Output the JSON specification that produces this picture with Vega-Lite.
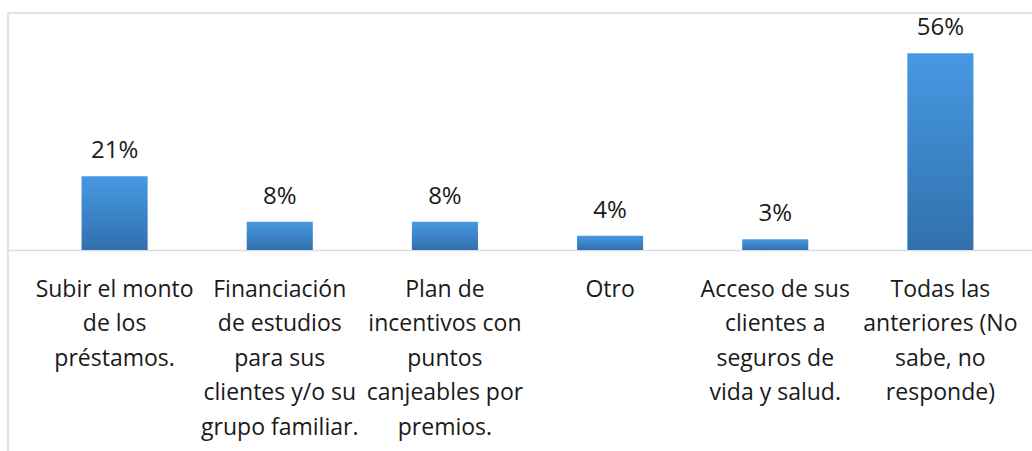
{
  "$schema": "https://vega.github.io/schema/vega-lite/v6.json",
  "autosize": "none",
  "padding": {"left": 8, "top": 13, "right": 0, "bottom": 0},
  "width": 1039,
  "height": 445,
  "background": "white",
  "config": {
    "view": {"stroke": "#dde3ea", "strokeWidth": 2},
    "font": "Open Sans"
  },
  "data": {
    "values": [
      {"cat": "Subir el monto|de los|préstamos.", "value": 0.21},
      {"cat": "Financiación|de estudios|para sus|clientes y/o su|grupo familiar.", "value": 0.08},
      {"cat": "Plan de|incentivos con|puntos|canjeables por|premios.", "value": 0.08},
      {"cat": "Otro", "value": 0.04},
      {"cat": "Acceso de sus|clientes a|seguros de|vida y salud.", "value": 0.03},
      {"cat": "Todas las|anteriores (No|sabe, no|responde)", "value": 0.56}
    ]
  },
  "encoding": {
    "x": {
      "field": "cat",
      "type": "nominal",
      "sort": null,
      "scale": {"paddingInner": 0.6, "paddingOuter": 0.4455},
      "axis": {
        "title": null,
        "orient": "bottom",
        "offset": -208,
        "labelAngle": 0,
        "labelExpr": "split(datum.label, '|')",
        "labelFont": "Open Sans",
        "labelFontSize": 23,
        "labelLineHeight": 34.6,
        "labelColor": "#1a1a1a",
        "labelLimit": 300,
        "labelPadding": 28,
        "labelBaseline": "top",
        "ticks": false,
        "domainColor": "#d9dde3",
        "domainWidth": 1.5,
        "grid": false
      }
    }
  },
  "layer": [
    {
      "mark": {
        "type": "bar",
        "color": {
          "gradient": "linear",
          "x1": 0, "y1": 0, "x2": 0, "y2": 1,
          "stops": [
            {"offset": 0, "color": "#4799e2"},
            {"offset": 1, "color": "#3170ad"}
          ]
        }
      },
      "encoding": {
        "y": {
          "field": "value",
          "type": "quantitative",
          "scale": {"domain": [-0.593, 0.675], "nice": false, "zero": false},
          "axis": null
        },
        "y2": {"datum": 0}
      }
    },
    {
      "mark": {"type": "text", "baseline": "alphabetic", "dy": -18, "fontSize": 24, "font": "Open Sans", "color": "#1a1a1a"},
      "encoding": {
        "y": {"field": "value", "type": "quantitative"},
        "text": {"field": "value", "type": "quantitative", "format": ".0%"}
      }
    }
  ]
}
